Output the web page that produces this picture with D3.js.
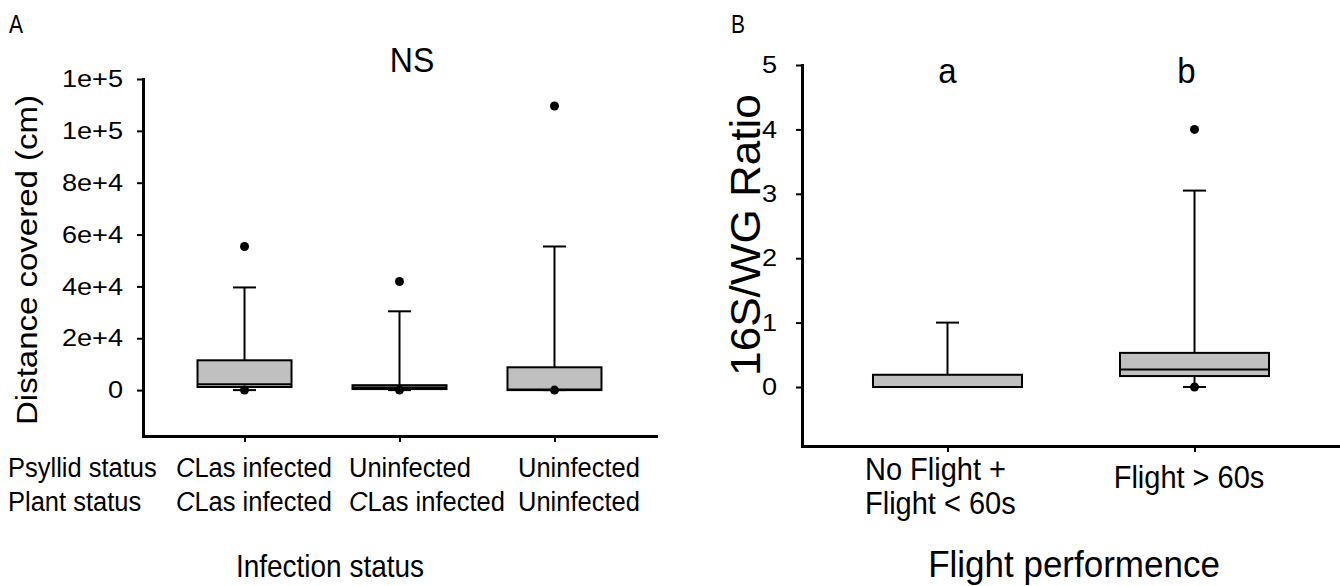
<!DOCTYPE html>
<html>
<head>
<meta charset="utf-8">
<script src="https://cdn.jsdelivr.net/npm/d3@7"></script>
<style>
  body { margin: 0; background: #fff; }
  svg { display: block; font-family: "Liberation Sans", Arial, sans-serif; }
  .domain { stroke: #000; stroke-width: 3; stroke-linecap: square; }
  .tick line { stroke: #000; stroke-width: 2; }
  .tick text { fill: #000; }
</style>
</head>
<body>
<svg id="chart" width="1340" height="586"></svg>
<script>
// panel A: distance covered by infection status
var psyllidStatus = ["CLas infected", "Uninfected", "Uninfected"];
var plantStatus = ["CLas infected", "CLas infected", "Uninfected"];
var catsA = ["g1", "g2", "g3"];
var lowA = [0, 0, 0];
var q1A = [1200, 400, 0];
var medA = [2300, 1000, 200];
var q3A = [11500, 1900, 8800];
var highA = [39600, 30400, 55400];
var outA = [[55400, 0], [41900, 0], [109600, 0]];
var ticksA = [0, 20000, 40000, 60000, 80000, 100000, 120000];
var tickLabelsA = ["0", "2e+4", "4e+4", "6e+4", "8e+4", "1e+5", "1e+5"];

// panel B: 16S/WG ratio by flight performance
var catsB = ["No Flight +|Flight < 60s", "Flight > 60s"];
var lowB = [0, 0];
var q1B = [0, 0.17];
var medB = [0, 0.27];
var q3B = [0.19, 0.53];
var highB = [1.0, 3.05];
var outB = [[], [4.0, 0]];
var ticksB = [0, 1, 2, 3, 4, 5];
var lettersB = ["a", "b"];

var svg = d3.select("#chart");

// text with a little stretch, like the exported figure
function label(g, x, y, size, str, opt){
	opt = opt || {};
	var t = g.append("text")
		.attr("transform", "translate(" + x + "," + y + ")" + (opt.rot ? " rotate(-90)" : "") +
			" scale(" + (opt.sx || 1) + "," + (opt.sy || 1) + ")")
		.attr("font-size", size)
		.attr("text-anchor", opt.anchor || "start");
	if (typeof str === "function") t.call(str); else t.text(str);
	return t;
}

// tick labels are drawn a bit wide in the original
function wideTicks(g, pad){
	g.selectAll(".tick text")
		.attr("font-size", 24)
		.attr("x", null)
		.attr("text-anchor", "end")
		.attr("transform", "translate(" + (-pad) + ",0) scale(1.13,1)");
}

function boxes(g, cats, x, y, low, q1, med, q3, high, outs, boxW, capW){
	var rows = cats.map(function(c, i){
		return {c: c, low: low[i], q1: q1[i], med: med[i], q3: q3[i], high: high[i], out: outs[i]};
	});
	var b = g.selectAll(".box").data(rows).enter().append("g").attr("class", "box");
	// whiskers
	b.append("line").attr("x1", d => x(d.c)).attr("x2", d => x(d.c))
		.attr("y1", d => y(d.q3)).attr("y2", d => y(d.high))
		.attr("stroke", "#000").attr("stroke-width", 2);
	b.append("line").attr("x1", d => x(d.c)).attr("x2", d => x(d.c))
		.attr("y1", d => y(d.q1)).attr("y2", d => y(d.low))
		.attr("stroke", "#000").attr("stroke-width", 2);
	b.append("line").attr("x1", d => x(d.c) - capW/2).attr("x2", d => x(d.c) + capW/2)
		.attr("y1", d => y(d.high)).attr("y2", d => y(d.high))
		.attr("stroke", "#000").attr("stroke-width", 2);
	b.append("line").attr("x1", d => x(d.c) - capW/2).attr("x2", d => x(d.c) + capW/2)
		.attr("y1", d => y(d.low)).attr("y2", d => y(d.low))
		.attr("stroke", "#000").attr("stroke-width", 2);
	// box
	b.append("rect").attr("x", d => x(d.c) - boxW/2).attr("width", boxW)
		.attr("y", d => y(d.q3)).attr("height", d => Math.max(1, y(d.q1) - y(d.q3)))
		.attr("fill", "#c0c0c0").attr("stroke", "#000").attr("stroke-width", 2);
	b.append("line").attr("x1", d => x(d.c) - boxW/2).attr("x2", d => x(d.c) + boxW/2)
		.attr("y1", d => y(d.med)).attr("y2", d => y(d.med))
		.attr("stroke", "#000").attr("stroke-width", 2);
	// outliers
	b.selectAll("circle").data(d => d.out.map(v => ({c: d.c, v: v}))).enter().append("circle")
		.attr("cx", d => x(d.c)).attr("cy", d => y(d.v)).attr("r", 4.5).attr("fill", "#000");
}

// ---------- panel A ----------
var xA = d3.scalePoint().domain(catsA).range([143, 656]).padding(0.655);
var yA = d3.scaleLinear().domain([-17700, 120000]).range([436, 79]);
var gA = svg.append("g");

gA.append("g").attr("transform", "translate(143,0)")
	.call(d3.axisLeft(yA).tickValues(ticksA).tickSize(6).tickSizeOuter(0)
		.tickFormat((d, i) => tickLabelsA[i]))
	.call(g => wideTicks(g, 20));
gA.append("g").attr("transform", "translate(0,436)")
	.call(d3.axisBottom(xA).tickSize(6).tickSizeOuter(0).tickFormat(""));

boxes(gA, catsA, xA, yA, lowA, q1A, medA, q3A, highA, outA, 94, 23);

label(gA, 37, 260, 30, "Distance covered (cm)", {rot: true, anchor: "middle", sx: 1.1});
label(gA, 412, 72, 32, "NS", {anchor: "middle", sy: 1.08});
label(gA, 9, 33, 21, "A", {sy: 1.25});

// category table under panel A
var colA = [176, 349, 518];
function statusText(s){
	return function(sel){
		if (s.indexOf("CLas") === 0) {
			sel.append("tspan").attr("font-style", "italic").text("C");
			sel.append("tspan").text(s.slice(1));
		} else sel.text(s);
	};
}
label(gA, 8, 477, 25.5, "Psyllid status", {sy: 1.05});
label(gA, 8, 511, 25.5, "Plant status", {sy: 1.05});
catsA.forEach(function(c, i){
	label(gA, colA[i], 477, 25.5, statusText(psyllidStatus[i]), {sy: 1.05});
	label(gA, colA[i], 511, 25.5, statusText(plantStatus[i]), {sy: 1.05});
});
label(gA, 330, 577, 28, "Infection status", {anchor: "middle", sy: 1.15});

// ---------- panel B ----------
var xB = d3.scalePoint().domain(catsB).range([802, 1340]).padding(0.589);
var yB = d3.scaleLinear().domain([-0.916, 5]).range([446, 65]);
var gB = svg.append("g");

gB.append("g").attr("transform", "translate(802,0)")
	.call(d3.axisLeft(yB).tickValues(ticksB).tickSize(6).tickSizeOuter(0)
		.tickFormat(d3.format("d")))
	.call(g => wideTicks(g, 25));
gB.append("g").attr("transform", "translate(0,446)")
	.call(d3.axisBottom(xB).tickSize(6).tickSizeOuter(0).tickFormat(""));

boxes(gB, catsB, xB, yB, lowB, q1B, medB, q3B, highB, outB, 149, 23);

catsB.forEach(function(c, i){
	label(gB, xB(c) - (i ? 8 : 0), 83, 33, lettersB[i], {anchor: "middle", sy: 1.08});
});

label(gB, 760, 235, 42, "16S/WG Ratio", {rot: true, anchor: "middle", sx: 1.05});
label(gB, 731, 33, 21, "B", {sy: 1.25});

// two-line label under first group, one line under second
label(gB, 865, 480, 29, "No Flight +", {sy: 1.05});
label(gB, 865, 514, 29, "Flight < 60s", {sy: 1.05});
label(gB, 1189, 488, 29, "Flight > 60s", {anchor: "middle", sy: 1.05});
label(gB, 1074, 577, 35, "Flight performence", {anchor: "middle", sy: 1.05});
</script>
</body>
</html>
